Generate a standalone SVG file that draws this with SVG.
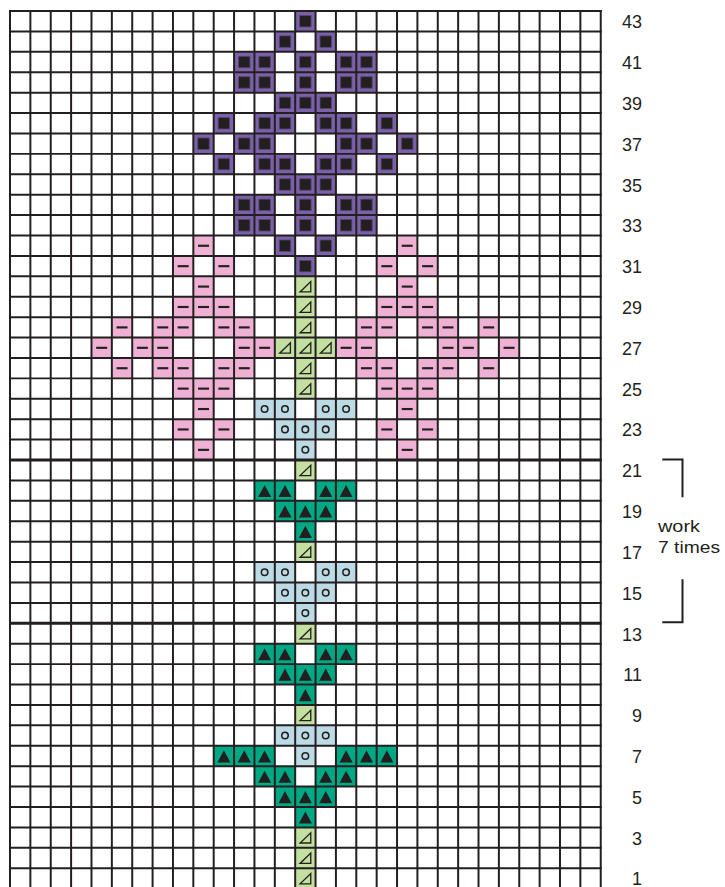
<svg xmlns="http://www.w3.org/2000/svg" width="725" height="887" viewBox="0 0 725 887">
<style>
.grid{fill:none;stroke:#231f20;stroke-width:1.95}
.thick{fill:none;stroke:#231f20;stroke-width:2.9}
.num{font-family:"Liberation Sans",Arial,sans-serif;font-size:18px;fill:#231f20;text-anchor:end}
.note{font-family:"Liberation Sans",Arial,sans-serif;font-size:17px;fill:#231f20}
.brk{fill:none;stroke:#231f20;stroke-width:2}
</style>
<defs>
<g id="cP"><rect width="20" height="20" fill="#7b61a9"/><rect x="4.4" y="4.4" width="11.2" height="11.2" fill="#231f20" stroke="#54476a" stroke-width="0.8"/></g>
<g id="cK"><rect width="20" height="20" fill="#eeb1d3"/><rect x="4.6" y="9" width="10.8" height="2.1" fill="#231f20"/></g>
<g id="cG"><rect width="20" height="20" fill="#c3e0a0"/><path d="M4.8 15.3H15.3V5.2Z" fill="none" stroke="#231f20" stroke-width="1.3"/></g>
<g id="cB"><rect width="20" height="20" fill="#bddbe4"/><circle cx="10" cy="10" r="3.2" fill="none" stroke="#231f20" stroke-width="1.5"/></g>
<g id="cD"><rect width="20" height="20" fill="#00a884"/><path d="M10 4.4L16.4 16.3H3.6Z" fill="#231f20"/></g>
</defs>
<rect width="725" height="887" fill="#ffffff"/>
<g id="chart" transform="translate(10,11) scale(1.0185,1.0205)">
<g id="purple-motif">
<use href="#cP" x="280" y="0"/>
<use href="#cP" x="260" y="20"/><use href="#cP" x="300" y="20"/>
<use href="#cP" x="220" y="40"/><use href="#cP" x="240" y="40"/><use href="#cP" x="280" y="40"/><use href="#cP" x="320" y="40"/><use href="#cP" x="340" y="40"/>
<use href="#cP" x="220" y="60"/><use href="#cP" x="240" y="60"/><use href="#cP" x="280" y="60"/><use href="#cP" x="320" y="60"/><use href="#cP" x="340" y="60"/>
<use href="#cP" x="260" y="80"/><use href="#cP" x="280" y="80"/><use href="#cP" x="300" y="80"/>
<use href="#cP" x="200" y="100"/><use href="#cP" x="240" y="100"/><use href="#cP" x="260" y="100"/><use href="#cP" x="300" y="100"/><use href="#cP" x="320" y="100"/><use href="#cP" x="360" y="100"/>
<use href="#cP" x="180" y="120"/><use href="#cP" x="220" y="120"/><use href="#cP" x="240" y="120"/><use href="#cP" x="320" y="120"/><use href="#cP" x="340" y="120"/><use href="#cP" x="380" y="120"/>
<use href="#cP" x="200" y="140"/><use href="#cP" x="240" y="140"/><use href="#cP" x="260" y="140"/><use href="#cP" x="300" y="140"/><use href="#cP" x="320" y="140"/><use href="#cP" x="360" y="140"/>
<use href="#cP" x="260" y="160"/><use href="#cP" x="280" y="160"/><use href="#cP" x="300" y="160"/>
<use href="#cP" x="220" y="180"/><use href="#cP" x="240" y="180"/><use href="#cP" x="280" y="180"/><use href="#cP" x="320" y="180"/><use href="#cP" x="340" y="180"/>
<use href="#cP" x="220" y="200"/><use href="#cP" x="240" y="200"/><use href="#cP" x="280" y="200"/><use href="#cP" x="320" y="200"/><use href="#cP" x="340" y="200"/>
<use href="#cP" x="260" y="220"/><use href="#cP" x="300" y="220"/>
<use href="#cP" x="280" y="240"/>
</g>
<g id="pink-flower-left">
<use href="#cK" x="180" y="220"/>
<use href="#cK" x="160" y="240"/><use href="#cK" x="200" y="240"/>
<use href="#cK" x="180" y="260"/>
<use href="#cK" x="160" y="280"/><use href="#cK" x="180" y="280"/><use href="#cK" x="200" y="280"/>
<use href="#cK" x="100" y="300"/><use href="#cK" x="140" y="300"/><use href="#cK" x="160" y="300"/><use href="#cK" x="200" y="300"/><use href="#cK" x="220" y="300"/>
<use href="#cK" x="80" y="320"/><use href="#cK" x="120" y="320"/><use href="#cK" x="140" y="320"/><use href="#cK" x="220" y="320"/><use href="#cK" x="240" y="320"/>
<use href="#cK" x="100" y="340"/><use href="#cK" x="140" y="340"/><use href="#cK" x="160" y="340"/><use href="#cK" x="200" y="340"/><use href="#cK" x="220" y="340"/>
<use href="#cK" x="160" y="360"/><use href="#cK" x="180" y="360"/><use href="#cK" x="200" y="360"/>
<use href="#cK" x="180" y="380"/>
<use href="#cK" x="160" y="400"/><use href="#cK" x="200" y="400"/>
<use href="#cK" x="180" y="420"/>
</g>
<g id="pink-flower-right">
<use href="#cK" x="380" y="220"/>
<use href="#cK" x="360" y="240"/><use href="#cK" x="400" y="240"/>
<use href="#cK" x="380" y="260"/>
<use href="#cK" x="360" y="280"/><use href="#cK" x="380" y="280"/><use href="#cK" x="400" y="280"/>
<use href="#cK" x="340" y="300"/><use href="#cK" x="360" y="300"/><use href="#cK" x="400" y="300"/><use href="#cK" x="420" y="300"/><use href="#cK" x="460" y="300"/>
<use href="#cK" x="320" y="320"/><use href="#cK" x="340" y="320"/><use href="#cK" x="420" y="320"/><use href="#cK" x="440" y="320"/><use href="#cK" x="480" y="320"/>
<use href="#cK" x="340" y="340"/><use href="#cK" x="360" y="340"/><use href="#cK" x="400" y="340"/><use href="#cK" x="420" y="340"/><use href="#cK" x="460" y="340"/>
<use href="#cK" x="360" y="360"/><use href="#cK" x="380" y="360"/><use href="#cK" x="400" y="360"/>
<use href="#cK" x="380" y="380"/>
<use href="#cK" x="360" y="400"/><use href="#cK" x="400" y="400"/>
<use href="#cK" x="380" y="420"/>
</g>
<g id="stem">
<use href="#cG" x="280" y="260"/><use href="#cG" x="280" y="280"/><use href="#cG" x="280" y="300"/>
<use href="#cG" x="260" y="320"/><use href="#cG" x="280" y="320"/><use href="#cG" x="300" y="320"/>
<use href="#cG" x="280" y="340"/><use href="#cG" x="280" y="360"/>
<use href="#cG" x="280" y="440"/><use href="#cG" x="280" y="520"/><use href="#cG" x="280" y="600"/><use href="#cG" x="280" y="680"/>
<use href="#cG" x="280" y="800"/><use href="#cG" x="280" y="820"/><use href="#cG" x="280" y="840"/>
</g>
<g id="blue-buds">
<use href="#cB" x="240" y="380"/><use href="#cB" x="260" y="380"/><use href="#cB" x="300" y="380"/><use href="#cB" x="320" y="380"/>
<use href="#cB" x="260" y="400"/><use href="#cB" x="280" y="400"/><use href="#cB" x="300" y="400"/>
<use href="#cB" x="280" y="420"/>
<use href="#cB" x="240" y="540"/><use href="#cB" x="260" y="540"/><use href="#cB" x="300" y="540"/><use href="#cB" x="320" y="540"/>
<use href="#cB" x="260" y="560"/><use href="#cB" x="280" y="560"/><use href="#cB" x="300" y="560"/>
<use href="#cB" x="280" y="580"/>
<use href="#cB" x="260" y="700"/><use href="#cB" x="280" y="700"/><use href="#cB" x="300" y="700"/>
<use href="#cB" x="280" y="720"/>
</g>
<g id="green-leaves">
<use href="#cD" x="240" y="460"/><use href="#cD" x="260" y="460"/><use href="#cD" x="300" y="460"/><use href="#cD" x="320" y="460"/>
<use href="#cD" x="260" y="480"/><use href="#cD" x="280" y="480"/><use href="#cD" x="300" y="480"/>
<use href="#cD" x="280" y="500"/>
<use href="#cD" x="240" y="620"/><use href="#cD" x="260" y="620"/><use href="#cD" x="300" y="620"/><use href="#cD" x="320" y="620"/>
<use href="#cD" x="260" y="640"/><use href="#cD" x="280" y="640"/><use href="#cD" x="300" y="640"/>
<use href="#cD" x="280" y="660"/>
<use href="#cD" x="200" y="720"/><use href="#cD" x="220" y="720"/><use href="#cD" x="240" y="720"/><use href="#cD" x="320" y="720"/><use href="#cD" x="340" y="720"/><use href="#cD" x="360" y="720"/>
<use href="#cD" x="240" y="740"/><use href="#cD" x="260" y="740"/><use href="#cD" x="300" y="740"/><use href="#cD" x="320" y="740"/>
<use href="#cD" x="260" y="760"/><use href="#cD" x="280" y="760"/><use href="#cD" x="300" y="760"/>
<use href="#cD" x="280" y="780"/>
</g>
<g id="grid">
<path class="grid" d="M0 -1V861M20 -1V861M40 -1V861M60 -1V861M80 -1V861M100 -1V861M120 -1V861M140 -1V861M160 -1V861M180 -1V861M200 -1V861M220 -1V861M240 -1V861M260 -1V861M280 -1V861M300 -1V861M320 -1V861M340 -1V861M360 -1V861M380 -1V861M400 -1V861M420 -1V861M440 -1V861M460 -1V861M480 -1V861M500 -1V861M520 -1V861M540 -1V861M560 -1V861M580 -1V861"/>
<path class="grid" d="M-1 0H581M-1 20H581M-1 40H581M-1 60H581M-1 80H581M-1 100H581M-1 120H581M-1 140H581M-1 160H581M-1 180H581M-1 200H581M-1 220H581M-1 240H581M-1 260H581M-1 280H581M-1 300H581M-1 320H581M-1 340H581M-1 360H581M-1 380H581M-1 400H581M-1 420H581M-1 460H581M-1 480H581M-1 500H581M-1 520H581M-1 540H581M-1 560H581M-1 580H581M-1 620H581M-1 640H581M-1 660H581M-1 680H581M-1 700H581M-1 720H581M-1 740H581M-1 760H581M-1 780H581M-1 800H581M-1 820H581M-1 840H581M-1 860H581"/>
<path class="thick" d="M-1 440H581M-1 600H581"/>
</g>
</g>
<g id="row-numbers">
<text class="num" x="642" y="28.2">43</text>
<text class="num" x="642" y="69">41</text>
<text class="num" x="642" y="109.8">39</text>
<text class="num" x="642" y="150.7">37</text>
<text class="num" x="642" y="191.5">35</text>
<text class="num" x="642" y="232.3">33</text>
<text class="num" x="642" y="273.1">31</text>
<text class="num" x="642" y="313.9">29</text>
<text class="num" x="642" y="354.8">27</text>
<text class="num" x="642" y="395.6">25</text>
<text class="num" x="642" y="436.4">23</text>
<text class="num" x="642" y="477.2">21</text>
<text class="num" x="642" y="518">19</text>
<text class="num" x="642" y="558.9">17</text>
<text class="num" x="642" y="599.7">15</text>
<text class="num" x="642" y="640.5">13</text>
<text class="num" x="642" y="681.3">11</text>
<text class="num" x="642" y="722.1">9</text>
<text class="num" x="642" y="763">7</text>
<text class="num" x="642" y="803.8">5</text>
<text class="num" x="642" y="844.6">3</text>
<text class="num" x="642" y="884.5">1</text>
</g>
<g id="repeat-note">
<path class="brk" d="M662.3 459.5H682.5V497.3"/>
<path class="brk" d="M682.5 579.3V622.3H662.3"/>
<text class="note" x="658" y="531.7" textLength="42" lengthAdjust="spacingAndGlyphs">work</text>
<text class="note" x="658" y="553.3" textLength="62" lengthAdjust="spacingAndGlyphs">7 times</text>
</g>
</svg>
